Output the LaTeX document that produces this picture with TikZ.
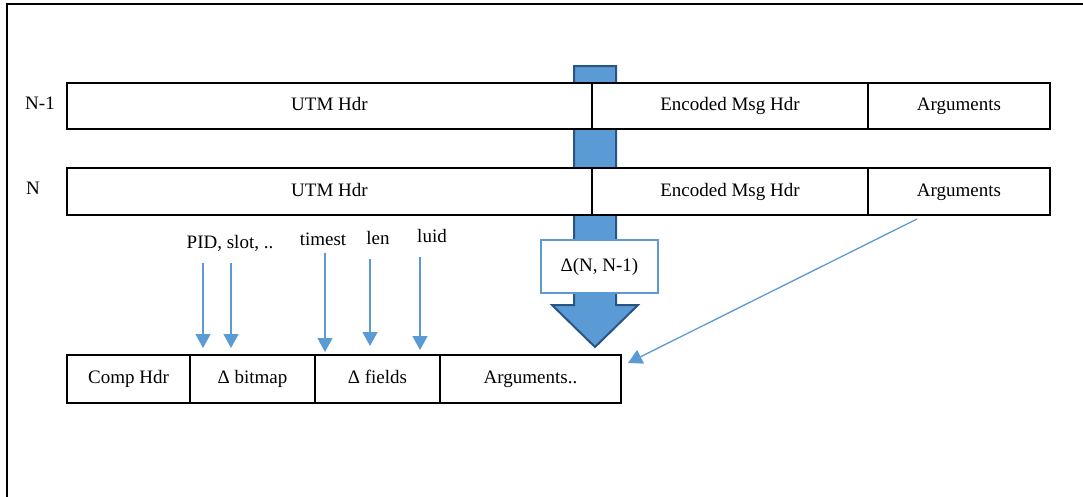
\documentclass[tikz,border=0pt]{standalone}
\usepackage{fontspec}
\setmainfont{Liberation Serif}
\usepackage{xcolor}
\usetikzlibrary{arrows.meta}

\definecolor{fieldblue}{HTML}{5B9BD5}
\definecolor{deltaline}{HTML}{2A5483}

\begin{document}
\begin{tikzpicture}[x=1pt, y=-1pt, every node/.style={font=\fontsize{19}{23}\selectfont, text height=13pt, text depth=4pt},
    cell/.style={draw, line width=1.3pt, fill=white, inner sep=0pt, outer sep=0pt, anchor=north west},
    fieldarrow/.style={draw=fieldblue, line width=1.3pt, -{Triangle[width=15pt,length=14pt]}, fill=fieldblue}]
                                            \useasboundingbox (0,0) rectangle (1083,496);
                                            % frame
                                            \draw[line width=2pt] (7,497) |- (1084,4);
                                            % delta arrow (behind the rows)
                                            \draw[deltaline, fill=fieldblue, line width=2pt, line join=miter]
                                              (574,66) -- (616,66) -- (616,305) -- (638,305) -- (595,347)
                                              -- (552,305) -- (574,305) -- cycle;
                                            % message N-1
                                            \node[cell, minimum width=525pt, minimum height=46pt] (utmA) at (67,83) {UTM Hdr};
                                            \node[cell, minimum width=276pt, minimum height=46pt] (encA) at (utmA.north east) {Encoded Msg Hdr};
                                            \node[cell, minimum width=182pt, minimum height=46pt] (argA) at (encA.north east) {Arguments};
                                            \node (rowA) at (40,105) {N-1};
                                            % message N
                                            \node[cell, minimum width=525pt, minimum height=47pt] (utmB) at (67,168) {UTM Hdr};
                                            \node[cell, minimum width=276pt, minimum height=47pt] (encB) at (utmB.north east) {Encoded Msg Hdr};
                                            \node[cell, minimum width=182pt, minimum height=47pt] (argB) at (encB.north east) {Arguments};
                                            \node (rowB) at (33,190) {N};
                                            % delta label
                                            \node[draw=fieldblue, line width=2.2pt, fill=white, minimum width=117pt, minimum height=53pt] (delta) at (599.5,266.5) {Δ(N, N-1)};
                                            % compressed message
                                            \node[cell, minimum width=123pt, minimum height=48pt] (comp) at (67,355) {Comp Hdr};
                                            \node[cell, minimum width=125pt, minimum height=48pt] (bitmap) at (comp.north east) {Δ bitmap};
                                            \node[cell, minimum width=125pt, minimum height=48pt] (fields) at (bitmap.north east) {Δ fields};
                                            \node[cell, minimum width=181pt, minimum height=48pt] (args) at (fields.north east) {Arguments..};
                                            % field labels
                                            \node (pid)    at (230,244) {PID, slot, ..};
                                            \node (timest) at (323,241) {timest};
                                            \node (len)    at (378,240) {len};
                                            \node (luid)   at (432,238) {luid};
                                            % field arrows
                                            \foreach \i/\x/\ya/\yb in {1/203/263/348, 2/231/263/348, 3/325/253/352, 4/370/259/346, 5/420/257/350}{
                                              \coordinate (tail\i) at (\x,\ya);
                                              \coordinate (tip\i)  at (\x,\yb);
                                              \draw[fieldarrow] (tail\i) -- (tip\i);
                                            }
                                            % arguments arrow
                                            \coordinate (argTail) at (917,219);
                                            \coordinate (argTip)  at (628,363);
                                            \draw[fieldarrow] (argTail) -- (argTip);
                                          \end{tikzpicture}
\end{document}
